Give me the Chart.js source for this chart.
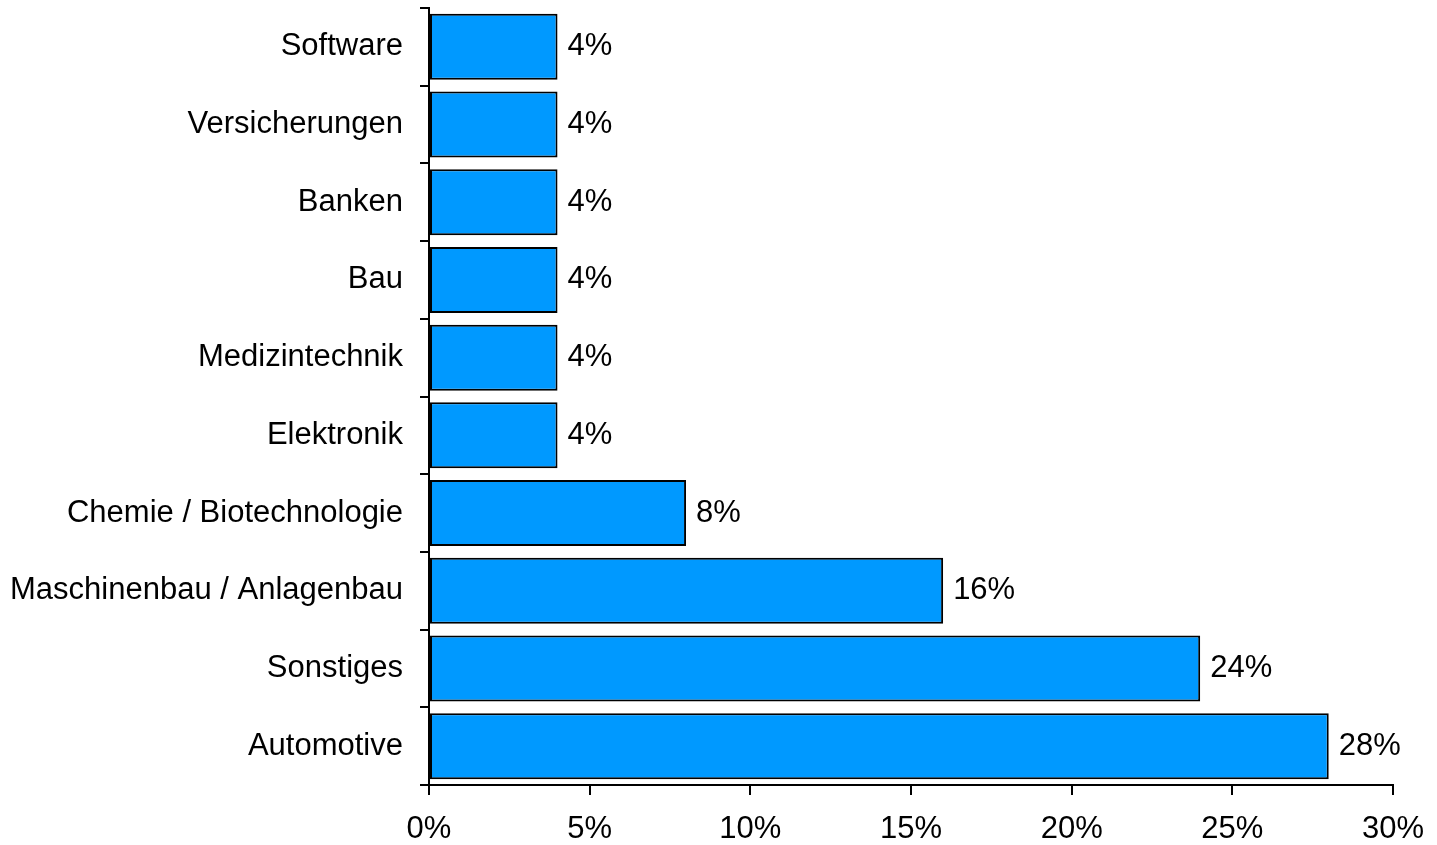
<!DOCTYPE html>
<html>
<head>
<meta charset="utf-8">
<script src="https://cdn.jsdelivr.net/npm/chart.js@4"></script>
<style>
  html, body { margin: 0; padding: 0; background: #fff; }
  #wrap { width: 1437px; height: 845px; }
</style>
</head>
<body>
<div id="wrap"><canvas id="branchenChart" width="1437" height="845"></canvas></div>
<script>
const branchen = [
  'Software',
  'Versicherungen',
  'Banken',
  'Bau',
  'Medizintechnik',
  'Elektronik',
  'Chemie / Biotechnologie',
  'Maschinenbau / Anlagenbau',
  'Sonstiges',
  'Automotive'
];
const anteile = [4, 4, 4, 4, 4, 4, 8, 16, 24, 28];
const xTicks = [0, 5, 10, 15, 20, 25, 30];

const fontFamily = '"Liberation Sans", Arial, sans-serif';
const fontSize = 31;

// draws the percentage next to each bar end
const valueLabels = {
  id: 'valueLabels',
  afterDatasetsDraw(chart) {
    const ctx = chart.ctx;
    const meta = chart.getDatasetMeta(0);
    ctx.save();
    ctx.font = fontSize + 'px ' + fontFamily;
    ctx.fillStyle = '#000';
    ctx.textAlign = 'left';
    ctx.textBaseline = 'middle';
    meta.data.forEach((bar, i) => {
      ctx.fillText(anteile[i] + '%', bar.x + 10, bar.y);
    });
    ctx.restore();
  }
};

const ctx = document.getElementById('branchenChart').getContext('2d');
const chart = new Chart(ctx, {
  type: 'bar',
  data: {
    labels: branchen,
    datasets: [
      {
        data: anteile,
        backgroundColor: '#0099FF',
        borderColor: '#000',
        borderWidth: 2,
        borderSkipped: false,
        categoryPercentage: 0.85,
        barPercentage: 1.0,
      },
    ],
  },
  options: {
    indexAxis: 'y',
    responsive: false,
    animation: false,
    layout: {
      padding: { top: 8, right: 44, left: 0, bottom: 0 }
    },
    plugins: {
      legend: { display: false },
      tooltip: { enabled: false },
    },
    scales: {
      x: {
        min: 0,
        max: 30,
        afterBuildTicks: (scale) => {
          scale.ticks = xTicks.map(v => ({ value: v }));
        },
        afterFit: (scale) => {
          scale.height = 60;
          scale.paddingLeft = 0;
          scale.paddingRight = 0;
        },
        border: { color: '#000', width: 2 },
        grid: {
          drawOnChartArea: false,
          color: '#000',
          lineWidth: 2,
          tickLength: 10,
        },
        ticks: {
          color: '#000',
          font: { family: fontFamily, size: fontSize },
          padding: 16,
          maxRotation: 0,
          callback: (v) => v + '%',
        },
      },
      y: {
        afterFit: (scale) => {
          scale.width = 429;
          scale.paddingTop = 0;
          scale.paddingBottom = 0;
        },
        border: { color: '#000', width: 2 },
        grid: {
          offset: true,
          drawOnChartArea: false,
          color: '#000',
          lineWidth: 2,
          tickLength: 9,
        },
        ticks: {
          color: '#000',
          font: { family: fontFamily, size: fontSize },
          padding: 17,
        },
      },
    },
  },
  plugins: [valueLabels],
});
</script>
</body>
</html>
